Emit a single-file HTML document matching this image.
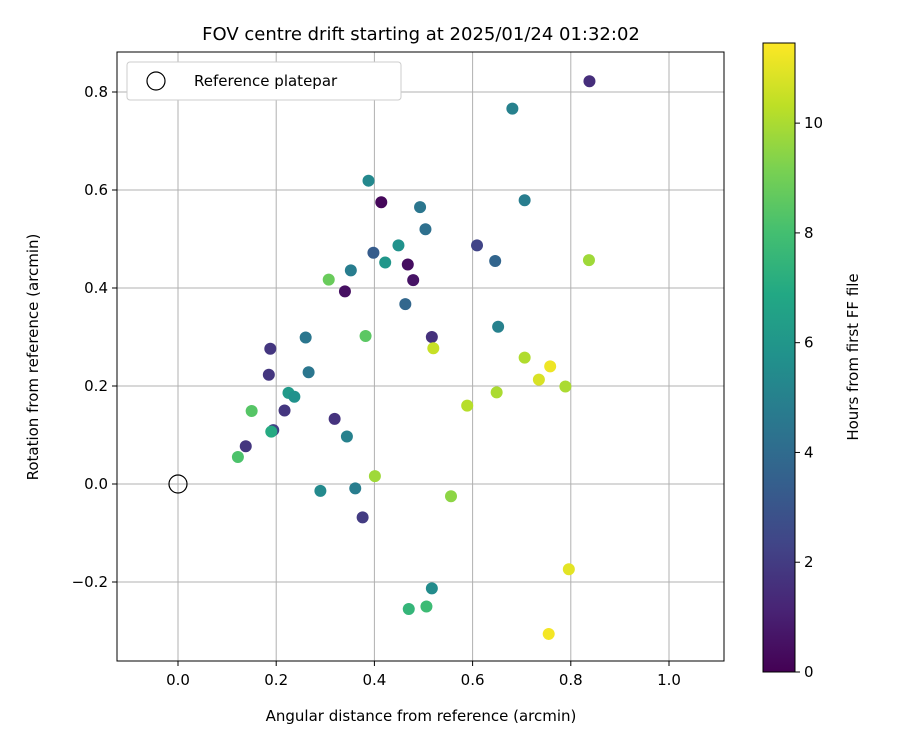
<!DOCTYPE html>
<html><head><meta charset="utf-8"><style>
body{margin:0;background:#fff;font-family:"Liberation Sans","DejaVu Sans",sans-serif;}
svg text{font-family:"DejaVu Sans","Liberation Sans",sans-serif;fill:#000}
</style></head><body>
<svg id="chart" width="900" height="750" xmlns="http://www.w3.org/2000/svg">
<defs><linearGradient id="vir" x1="0" y1="1" x2="0" y2="0">
<stop offset="0" stop-color="#440154"/><stop offset="0.1" stop-color="#482475"/><stop offset="0.2" stop-color="#414487"/><stop offset="0.3" stop-color="#355f8d"/><stop offset="0.4" stop-color="#2a788e"/><stop offset="0.5" stop-color="#21918c"/><stop offset="0.6" stop-color="#22a884"/><stop offset="0.7" stop-color="#44bf70"/><stop offset="0.8" stop-color="#7ad151"/><stop offset="0.9" stop-color="#bddf26"/><stop offset="1" stop-color="#fde725"/>
</linearGradient></defs>
<text x="421" y="40" font-size="18" text-anchor="middle">FOV centre drift starting at 2025/01/24 01:32:02</text>
<g id="grid"></g><g id="ticks"></g><g id="pts"></g>
<rect x="117" y="52" width="607" height="609" fill="none" stroke="#000" stroke-width="1"/>
<text x="421" y="721" font-size="15" text-anchor="middle">Angular distance from reference (arcmin)</text>
<text transform="translate(38,357) rotate(-90)" font-size="15" text-anchor="middle">Rotation from reference (arcmin)</text>
<g>
<rect x="127" y="62" width="274" height="38" rx="3" fill="#fff" stroke="#ccc"/>
<circle cx="156" cy="81" r="9" fill="none" stroke="#000" stroke-width="1.2"/>
<text x="194" y="86" font-size="15">Reference platepar</text>
</g>
<rect x="763" y="43" width="32" height="629" fill="url(#vir)" stroke="#000"/>
<g id="cticks"></g>
<text transform="translate(858,357) rotate(-90)" font-size="15" text-anchor="middle">Hours from first FF file</text>
</svg>
<script>
const xs=[0.838,0.681,0.388,0.414,0.493,0.706,0.504,0.398,0.449,0.609,0.646,0.422,0.468,0.352,0.479,0.307,0.340,0.837,0.463,0.652,0.260,0.382,0.517,0.520,0.188,0.706,0.758,0.185,0.266,0.735,0.789,0.225,0.237,0.589,0.649,0.150,0.217,0.319,0.194,0.190,0.344,0.138,0.122,0.401,0.290,0.361,0.376,0.556,0.796,0.517,0.470,0.506,0.755];
const ys=[0.822,0.766,0.619,0.575,0.565,0.579,0.520,0.472,0.487,0.487,0.455,0.452,0.448,0.436,0.416,0.417,0.393,0.457,0.367,0.321,0.299,0.302,0.300,0.277,0.276,0.258,0.240,0.223,0.228,0.213,0.199,0.186,0.178,0.160,0.187,0.149,0.150,0.133,0.110,0.107,0.097,0.077,0.055,0.016,-0.014,-0.009,-0.068,-0.025,-0.174,-0.213,-0.255,-0.250,-0.306];
const hours=[1.5,5.0,5.3,0.2,4.5,4.8,4.2,3.3,5.8,2.3,3.7,6.0,0.4,4.8,0.6,8.8,0.5,9.8,3.8,5.0,4.5,8.5,1.6,10.5,1.8,10.1,11.2,1.8,4.5,10.8,10.0,6.2,5.8,10.2,10.0,8.4,1.8,1.7,2.2,7.0,5.0,1.8,8.2,9.8,5.4,4.8,2.0,9.5,11.0,5.5,7.5,7.8,11.3];
const xTicks=[0,0.2,0.4,0.6,0.8,1.0];
const yTicks=[-0.2,0,0.2,0.4,0.6,0.8];
const cTicks=[0,2,4,6,8,10];
const HMAX=11.46;
const NS="http://www.w3.org/2000/svg";
function X(v){return 178+v*491;}
function Y(v){return 484-v*490;}
function C(h){return 672-h*(629/HMAX);}
const vir=[[68,1,84],[72,36,117],[65,68,135],[53,95,141],[42,120,142],[33,145,140],[34,168,132],[68,191,112],[122,209,81],[189,223,38],[253,231,37]];
function col(h){let t=Math.max(0,Math.min(1,h/HMAX))*10;let i=Math.min(9,Math.floor(t)),f=t-i;let a=vir[i],b=vir[i+1];return`rgb(${a.map((v,k)=>Math.round(v+(b[k]-v)*f)).join(',')})`;}
function mk(tag,at,parent){const e=document.createElementNS(NS,tag);for(const k in at)e.setAttribute(k,at[k]);document.getElementById(parent).appendChild(e);return e;}
function fmt(v){return (v<0?'\u2212':'')+Math.abs(v).toFixed(1);}
xTicks.forEach(v=>{
 let g=mk('line',{x1:X(v),x2:X(v),y1:52,y2:661,stroke:'#b0b0b0','stroke-width':1},'grid');
 
 
 mk('line',{x1:X(v),x2:X(v),y1:661,y2:666,stroke:'#000'},'ticks');
 let t=mk('text',{x:X(v),y:685,'font-size':15,'text-anchor':'middle'},'ticks');t.textContent=fmt(v);
 
 
});
yTicks.forEach(v=>{
 let g=mk('line',{x1:117,x2:724,y1:Y(v),y2:Y(v),stroke:'#b0b0b0','stroke-width':1},'grid');
 
 
 mk('line',{x1:112,x2:117,y1:Y(v),y2:Y(v),stroke:'#000'},'ticks');
 let t=mk('text',{x:108,y:Y(v)+5,'font-size':15,'text-anchor':'end'},'ticks');t.textContent=fmt(v);
 
 
});
cTicks.forEach(v=>{
 mk('line',{x1:795,x2:800,y1:C(v),y2:C(v),stroke:'#000'},'cticks');
 let t=mk('text',{x:804,y:C(v)+5,'font-size':15},'cticks');t.textContent=v;
 
 
});
let r=mk('circle',{cx:X(0),cy:Y(0),r:9,fill:'none',stroke:'#000','stroke-width':1.2},'pts');


xs.forEach((x,i)=>{
 let c=mk('circle',{cx:X(x),cy:Y(ys[i]),r:6,fill:col(hours[i])},'pts');
 
 
});
</script>
</body></html>
